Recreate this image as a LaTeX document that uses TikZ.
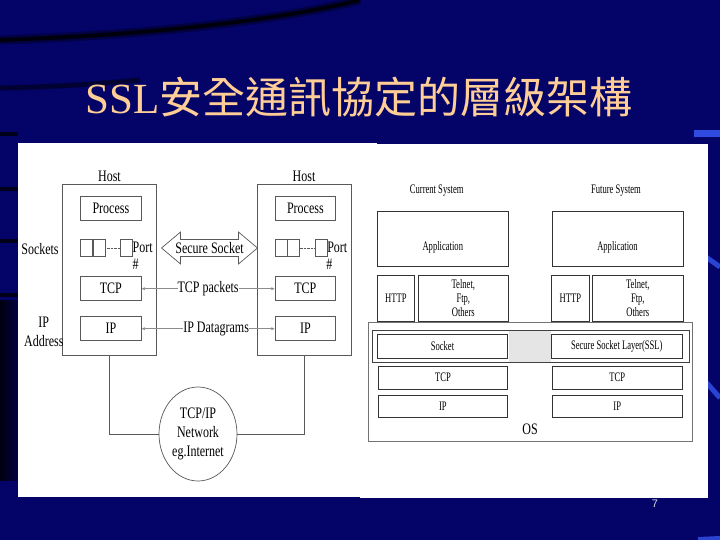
\documentclass[tikz,border=0pt]{standalone}
\usepackage{fontspec}
\setmainfont{Liberation Serif}
\newfontfamily\cjk{Noto Sans CJK TC}
\newfontfamily\narrow[FakeStretch=0.75]{Liberation Serif}
\newfontfamily\slim[FakeStretch=0.66]{Liberation Serif}
\newfontfamily\pagefont{Liberation Sans}
\usetikzlibrary{positioning,shapes.geometric,shapes.arrows,arrows.meta}
\definecolor{slidebg}{RGB}{3,3,104}
\definecolor{peach}{RGB}{255,206,150}
\definecolor{hilite}{RGB}{60,95,255}
\begin{document}
\begin{tikzpicture}[x=1pt,y=-1pt,
    >={Latex[length=3.5pt,width=3pt]},
    title/.style={text=peach,inner sep=0pt,font=\fontsize{43}{47}\selectfont},
    lbl/.style={inner sep=1pt,font=\narrow\fontsize{16}{19}\selectfont},
    small/.style={inner sep=1pt,align=center,font=\slim\fontsize{13}{14}\selectfont},
    host/.style={draw=black!65,line width=0.7pt,minimum width=93.7,minimum height=171,inner sep=0pt},
    box/.style={lbl,draw=black!65,line width=0.7pt,fill=white,minimum width=60.3,minimum height=24,inner sep=0pt},
    sq/.style={draw=black!65,line width=0.6pt,minimum width=11.8,minimum height=17,inner sep=0pt},
    secure/.style={lbl,draw=black!65,line width=0.7pt,double arrow,double arrow head extend=7pt,
      double arrow tip angle=80,minimum width=32,minimum height=96,inner xsep=1pt,inner ysep=2pt},
    wire/.style={draw=black!65,line width=0.7pt},
    pkt/.style={draw=black!45,line width=0.5pt,<->},
    layer/.style={small,draw=black!80,line width=0.6pt,fill=white,inner sep=0pt}]

\useasboundingbox (0,0) rectangle (720,540);
\fill[slidebg] (0,0) rectangle (720,540);
\shade[left color=black!85!slidebg,right color=slidebg] (0,300) rectangle (30,480);
\draw[black,line width=9pt,opacity=.35] (0,40) .. controls (150,35) and (280,20) .. (360,0);
\draw[black,line width=4pt,opacity=.8] (0,40) .. controls (150,35) and (280,20) .. (360,0);
\draw[black,line width=5pt,opacity=.5] (0,88) .. controls (50,87) and (100,84) .. (140,80);
\foreach \yy in {134,189,241,295}
  \draw[black,line width=4pt,opacity=.75] (0,\yy) -- (18,\yy);
\draw[hilite,line width=7pt,opacity=.8] (694,134) -- (720,134);
\draw[hilite,line width=5pt,opacity=.7] (706,257) -- (720,267);
\draw[hilite,line width=5pt,opacity=.7] (706,382) -- (720,398);
\draw[hilite,line width=4pt,opacity=.7] (698,539) -- (720,538);

\node[title] (title) at (359,97) {SSL{\cjk 安全通訊協定的層級架構}};

\fill[white] (18,143) rectangle (377,497);
\fill[white] (360,144) rectangle (708,498);

% hosts
\node[host] (host1) at (109.5,269.5) {};
\node[host] (host2) at (304,269.5) {};
\node[lbl,above=1pt of host1] (hname1) {Host};
\node[lbl,above=1pt of host2] (hname2) {Host};

\node[box] (proc1) at (110.85,208) {Process};
\node[box] (proc2) at (305.35,208) {Process};
\node[box,below=56pt of proc1] (tcp1) {TCP};
\node[box,below=56pt of proc2] (tcp2) {TCP};
\node[box,below=15.3pt of tcp1] (ip1) {IP};
\node[box,below=15.3pt of tcp2] (ip2) {IP};

\node[sq] (sa1) at (86.6,247.8) {};
\node[sq,right=0pt of sa1] (sb1) {};
\node[sq] (port1) at (126.2,247.8) {};
\node[sq] (sa2) at (280.9,247.8) {};
\node[sq,right=0pt of sa2] (sb2) {};
\node[sq] (port2) at (320.9,247.8) {};
\draw[black!65,densely dotted] (sb1) -- (port1);
\draw[black!65,densely dotted] (sb2) -- (port2);
\node[lbl,anchor=west,inner sep=0pt] (pname1) at (port1.east) {Port};
\node[lbl,anchor=west,inner sep=0pt] (pname2) at (port2.east) {Port};
\node[lbl] (hash1) at (135.7,264) {\#};
\node[lbl] (hash2) at (329.3,264) {\#};

\node[lbl] (sockets) at (40,249) {Sockets};
\node[lbl,align=center] (ipaddr) at (43.8,332) {IP\\Address};

\node[secure] (secure) at (209.5,248) {Secure Socket};
\draw[pkt] (tcp1) -- node[lbl,fill=white,inner sep=0pt] {TCP packets} (tcp2);
\draw[pkt] (ip1) -- node[lbl,fill=white,inner sep=0pt,pos=0.56] {IP Datagrams} (ip2);

\node[lbl,draw=black!65,line width=0.7pt,ellipse,align=center,minimum width=78,minimum height=94,inner sep=0pt]
  (net) at (198,434) {TCP/IP\\Network\\eg.Internet};
\draw[wire] (host1.south) |- (net.west);
\draw[wire] (host2.south) |- (net.east);

% current / future system
\node[small] (cur) at (436.7,190.7) {Current System};
\node[small] (fut) at (616,190.7) {Future System};

\node[layer,minimum width=131,minimum height=55] (appL) at (442.8,239.2) {};
\node[layer,minimum width=131,minimum height=55] (appR) at (617.5,239.2) {};
\node[small] (appLtxt) at ([yshift=-8pt]appL.center) {Application};
\node[small] (appRtxt) at ([yshift=-8pt]appR.center) {Application};

\node[layer,minimum width=37,minimum height=46.7] (httpL) at (395.8,298.4) {HTTP};
\node[layer,minimum width=90,minimum height=46.7] (telL) at (463.3,298.4) {Telnet,\\Ftp,\\Others};
\node[layer,minimum width=37.3,minimum height=46.7] (httpR) at (570.4,298.4) {HTTP};
\node[layer,minimum width=91,minimum height=46.7] (telR) at (637.8,298.4) {Telnet,\\Ftp,\\Others};

\node[draw=black!55,line width=0.9pt,fill=white,minimum width=324.4,minimum height=118.3,inner sep=0pt]
  (os) at (530.5,381.9) {};
\node[lbl] (osname) at (530,429.3) {OS};
\node[draw=black!75,line width=0.6pt,minimum width=317,minimum height=31.6,inner sep=0pt]
  (band) at (530.8,346.5) {};

\node[layer,minimum width=130.4,minimum height=24] (sockL) at (442.5,346.3) {Socket};
\node[layer,minimum width=131,minimum height=24] (ssl) at (616.8,346.3) {Secure Socket Layer(SSL)};
\fill[black!10] (sockL.east |- band.north) ++(0.5,1) rectangle ([xshift=-0.5pt,yshift=1pt]ssl.west |- band.south);
\node[layer,minimum width=129.7,minimum height=23.3] (tcpL) at (442.9,377.7) {TCP};
\node[layer,minimum width=130.3,minimum height=23.3] (tcpR) at (617.2,377.7) {TCP};
\node[layer,minimum width=129.7,minimum height=22.4,below=5pt of tcpL] (ipL) {IP};
\node[layer,minimum width=130.3,minimum height=22.4,below=5pt of tcpR] (ipR) {IP};

\node[text=white!85!slidebg,font=\pagefont\fontsize{11}{12}\selectfont] (pageno) at (655,503.5) {7};
\end{tikzpicture}
\end{document}
